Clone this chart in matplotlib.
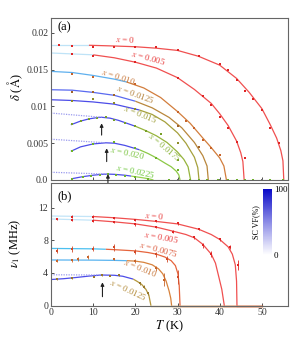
import matplotlib.pyplot as plt
import numpy as np
from matplotlib.colors import LinearSegmentedColormap, Normalize

plt.rcParams['font.family'] = ['Liberation Serif', 'DejaVu Serif']
plt.rcParams['mathtext.fontset'] = 'stix'

# ---- panel (a): delta (Angstrom) vs T (K), fit curves
a0_T = [0, 9, 15, 20, 25, 30, 35, 40, 44, 47, 50, 52, 53.5, 54.5, 55.0, 55.2]
a0_d = [0.0183, 0.0183, 0.0182, 0.0181, 0.0179, 0.0176, 0.0168, 0.0156, 0.0138,
        0.0119, 0.0097, 0.0075, 0.0057, 0.0040, 0.0026, 0.0]
a005_T = [0, 10, 15, 20, 25, 30, 34, 38, 40, 42, 44, 45, 45.5, 45.8]
a005_d = [0.01725, 0.0170, 0.0166, 0.0160, 0.0152, 0.0139, 0.0123, 0.0104, 0.0090,
          0.0074, 0.0053, 0.0037, 0.0025, 0.0]
a010_T = [0, 5, 10, 15, 18, 22, 26, 30, 33, 36, 38, 40, 41, 41.6]
a010_d = [0.01475, 0.0146, 0.0142, 0.0137, 0.0133, 0.0125, 0.0112, 0.0093, 0.0077,
          0.0057, 0.0044, 0.0030, 0.0019, 0.0]
a0125_T = [0, 5, 10, 15, 20, 24, 28, 31, 34, 36, 37, 37.3]
a0125_d = [0.01226, 0.0122, 0.0119, 0.0115, 0.0107, 0.0098, 0.0085, 0.0071, 0.0051,
           0.0033, 0.0019, 0.0]
a015_T = [0, 5, 10, 15, 21, 24, 27, 30, 32, 34, 34.8, 35.1]
a015_d = [0.0109, 0.0108, 0.0106, 0.0103, 0.0095, 0.0089, 0.0079, 0.0064, 0.0050,
          0.0031, 0.0017, 0.0]
a0175_T = [4.7, 7, 9, 11, 12, 14, 16, 18, 20, 22.5, 25, 27.5, 30, 31.5, 32.5, 33.1]
a0175_d = [0.0075, 0.0080, 0.0083, 0.00848, 0.00852, 0.0084, 0.0081, 0.0077, 0.0073,
           0.0067, 0.0060, 0.0051, 0.0038, 0.0028, 0.0018, 0.0]
a020_T = [4.7, 7, 10, 13, 15, 17.5, 21, 23, 25, 27, 28.5, 29.7, 30.3, 30.6]
a020_d = [0.0039, 0.0045, 0.0049, 0.00505, 0.0050, 0.0047, 0.0041, 0.0036, 0.0030,
          0.0023, 0.0018, 0.0012, 0.0007, 0.0]
a0225_T = [5, 7.5, 10, 12, 13.5, 15, 17.5, 19, 20, 22, 23.5, 24.3]
a0225_d = [0.00018, 0.00045, 0.00065, 0.00077, 0.0008, 0.00077, 0.00065, 0.00053,
           0.00045, 0.00028, 0.00012, 0.0]

# dotted extrapolations to T = 0
a0175_dot = ([0, 12], [0.00909, 0.00852])
a020_dot = ([0, 13], [0.00554, 0.00505])
a0225_dot = ([0, 13.5], [0.00105, 0.0008])

# measured points, panel (a)
p0_T = [2, 5, 10, 15, 20, 25, 30, 35, 40, 42, 44, 46, 48, 50, 52, 54]
p0_d = [0.0183, 0.0182, 0.0180, 0.0180, 0.0180, 0.0180, 0.0177, 0.0168, 0.0157,
        0.0150, 0.0136, 0.0121, 0.0110, 0.0095, 0.0070, 0.0050]
p005_T = [5, 10, 20, 30, 36, 38, 40, 42, 44, 46]
p005_d = [0.0171, 0.0169, 0.0160, 0.0139, 0.0114, 0.0102, 0.0086, 0.0071, 0.0051, 0.0030]
p010_T = [5, 10, 20, 30, 32, 34, 36, 38, 40]
p010_d = [0.0144, 0.0140, 0.0131, 0.0092, 0.0080, 0.0070, 0.0055, 0.0043, 0.0034]
p0125_T = [5, 10, 15, 30, 35]
p0125_d = [0.0120, 0.0120, 0.0116, 0.0073, 0.0045]
p015_T = [5, 10, 15, 20, 30]
p015_d = [0.0107, 0.0110, 0.01045, 0.0096, 0.0050]
p0175_T = [5, 7, 9, 11, 13, 15, 17.5, 20, 22.5, 26, 30]
p0175_d = [0.0076, 0.0080, 0.0083, 0.0084, 0.0085, 0.0082, 0.0077, 0.0073, 0.0066,
           0.0063, 0.0027]
p020_T = [5, 10, 15, 20, 25, 30]
p020_d = [0.0039, 0.0049, 0.0051, 0.0043, 0.0030, 0.0013]
p0225_T = [5, 7.5, 9.5, 11.5, 13.5, 15.5, 17.5, 20, 23]
p0225_d = [0.0002, 0.00045, 0.0006, 0.0007, 0.0008, 0.0007, 0.00055, 0.00045, 0.0002]
zero_green_T = [28, 33, 35, 37, 39.5, 42, 44, 46, 48, 52, 55]
zero_grey_T = [30, 40, 50]

# ---- panel (b): nu_1 (MHz) vs T (K)
b0_T = [0, 10, 15, 20, 25, 30, 35, 38, 40, 42, 43, 43.7, 44.0, 44.1]
b0_v = [10.96, 10.9, 10.75, 10.55, 10.3, 10.0, 9.35, 8.7, 8.1, 7.2, 6.3, 5.0, 3.0, 0]
b005_T = [0, 10, 15, 20, 25, 29, 32, 34, 36, 38, 39, 39.8, 40.5, 41.1]
b005_v = [10.6, 10.45, 10.25, 10.0, 9.6, 9.1, 8.7, 8.3, 7.5, 6.3, 5.2, 3.5, 2.0, 0]
b0075_T = [0, 10, 13, 15, 20, 23, 25, 27, 28.5, 29.5, 30.1, 30.4, 30.6]
b0075_v = [7.0, 6.95, 6.9, 6.85, 6.7, 6.5, 6.3, 5.95, 5.5, 4.9, 3.9, 2.5, 0]
b010_T = [0, 10, 15, 18, 20, 22, 24, 25.5, 26.5, 27.3, 28, 28.4, 28.6]
b010_v = [5.59, 5.57, 5.54, 5.5, 5.45, 5.3, 5.0, 4.5, 3.9, 3.0, 1.8, 0.9, 0]
b0125_T = [0, 3, 6, 9, 12, 15, 17, 19.5, 20.5, 21.5, 22.5, 23.2, 23.7]
b0125_v = [3.2, 3.3, 3.45, 3.62, 3.75, 3.72, 3.6, 3.25, 2.95, 2.6, 2.0, 1.3, 0]
b0125_dot = ([0, 12], [3.78, 3.75])

q0_T = [5, 10, 15, 20, 25, 30, 35, 40, 42.4, 44.4]
q0_v = [10.9, 10.9, 10.7, 10.5, 10.35, 10.05, 9.35, 8.1, 7.2, 5.0]
q0_e = [0.15, 0.15, 0.15, 0.15, 0.15, 0.15, 0.15, 0.2, 0.25, 0.6]
q005_T = [1.5, 5, 10, 15, 20, 25, 29, 34, 36, 38]
q005_v = [10.6, 10.5, 10.4, 10.2, 9.95, 9.6, 9.05, 8.35, 7.4, 6.3]
q005_e = [0.1, 0.15, 0.15, 0.15, 0.15, 0.15, 0.15, 0.2, 0.3, 0.35]
q0075_T = [1.5, 5, 10, 15, 20, 25, 27.5, 30]
q0075_v = [6.7, 6.95, 6.95, 7.15, 6.6, 6.3, 5.7, 3.5]
q0075_e = [0.3, 0.35, 0.3, 0.45, 0.3, 0.3, 0.35, 0.9]
q010_T = [1.5, 5, 6.5, 8.7, 15, 20, 25, 26.8]
q010_v = [5.5, 5.55, 5.7, 5.95, 5.7, 5.45, 4.6, 3.2]
q010_e = [0.2, 0.2, 0.2, 0.2, 0.15, 0.2, 0.3, 0.8]
q0125_T = [1.5, 5, 10.2, 12.2, 14, 16.1, 21.1, 22.1, 23]
q0125_v = [3.22, 3.35, 3.55, 3.75, 3.67, 3.75, 2.74, 2.32, 1.5]
q0125_e = [0.1, 0.1, 0.1, 0.1, 0.1, 0.1, 0.15, 0.2, 0.2]

fig = plt.figure(figsize=(2.99, 3.40), dpi=100)
ax_a = fig.add_axes([0.1706, 0.4706, 0.7926, 0.4764])
ax_b = fig.add_axes([0.1706, 0.1009, 0.7926, 0.3609])


def two_tone(ax, T, y, t_sw, c_sc, c_x, lw=0.9):
    i = max(k for k in range(len(T)) if T[k] <= t_sw)
    ax.plot(T[:i + 1], y[:i + 1], color=c_sc, lw=lw, solid_capstyle='butt')
    ax.plot(T[i:], y[i:], color=c_x, lw=lw, solid_capstyle='butt')


dot_c = '#9a9aee'
light = '#bfe3f7'
blue = '#4c4ce8'

# panel (a) curves: (T, delta, switch T, SC colour, x colour, points T, points delta, point colour)
curves_a = [
    (a0_T, a0_d, 9, light, '#f05050', p0_T, p0_d, '#e02424'),
    (a005_T, a005_d, 10, light, '#f05050', p005_T, p005_d, '#e02424'),
    (a010_T, a010_d, 18, '#5fb0ee', '#d27d3c', p010_T, p010_d, '#c8642a'),
    (a0125_T, a0125_d, 20, '#5a6af0', '#b9873c', p0125_T, p0125_d, '#a0642a'),
    (a015_T, a015_d, 21, blue, '#a5a03c', p015_T, p015_d, '#8c8c28'),
    (a0175_T, a0175_d, 20, blue, '#96b43c', p0175_T, p0175_d, '#78a028'),
    (a020_T, a020_d, 21, blue, '#8cc846', p020_T, p020_d, '#6eb428'),
    (a0225_T, a0225_d, 19, blue, '#96d250', p0225_T, p0225_d, '#6eb428'),
]
for T, d, sw, csc, cx, pT, pd, pc in curves_a:
    two_tone(ax_a, T, d, sw, csc, cx)
    ax_a.plot(pT, pd, 's', ms=1.7, color=pc, mew=0)
for T, d in (a0175_dot, a020_dot, a0225_dot):
    ax_a.plot(T, d, ls=(0, (1, 1)), color=dot_c, lw=0.9)
ax_a.plot(zero_green_T, [0] * len(zero_green_T), 's', ms=1.7, color='#6eb428', mew=0, clip_on=False)
ax_a.plot(zero_grey_T, [0] * len(zero_grey_T), 's', ms=1.7, color='#707070', mew=0, clip_on=False)

labels_a = [
    ('$x$ = 0', 17.5, 0.0191, -3, '#e83c3c'),
    ('$x$ = 0.005', 23.0, 0.01662, -15, '#e83c3c'),
    ('$x$ = 0.010', 15.9, 0.01403, -18, '#c8783c'),
    ('$x$ = 0.0125', 19.9, 0.01172, -20, '#b4823c'),
    ('$x$ = 0.015', 21.1, 0.0089, -22, '#a0a03c'),
    ('$x$ = 0.0175', 27.0, 0.0045, -40, '#8cb43c'),
    ('$x$ = 0.020', 18.2, 0.00368, -12, '#78c33c'),
    ('$x$ = 0.0225', 20.1, 0.00123, -12, '#6ec83c'),
]
for s, tx, ty, rot, c in labels_a:
    ax_a.text(tx, ty, s, color=c, fontsize=6.4, rotation=rot, ha='center', va='center')

arr = dict(arrowstyle='-|>', color='#222222', lw=0.8, mutation_scale=5, shrinkA=0, shrinkB=0)
ax_a.annotate('', xy=(12, 0.0077), xytext=(12, 0.0061), arrowprops=arr)
ax_a.annotate('', xy=(13.2, 0.0043), xytext=(13.2, 0.0025), arrowprops=arr)
ax_a.annotate('', xy=(13.5, 0.0008), xytext=(13.5, -0.0016), arrowprops=arr, annotation_clip=False)

ax_a.set_xlim(0, 56.2)
ax_a.set_ylim(0, 0.022)
ax_a.set_yticks([0, 0.005, 0.01, 0.015, 0.02])
ax_a.set_yticklabels(['0.0', '0.005', '0.01', '0.015', '0.02'])
ax_a.set_xticks([0, 10, 20, 30, 40, 50])
ax_a.set_xticklabels([])
ax_a.text(1.5, 0.0208, '(a)', fontsize=9, va='center')

# panel (b)
curves_b = [
    (b0_T, b0_v, 10, '#c3e5f8', '#f05050', q0_T, q0_v, q0_e, '#e02424'),
    (b005_T, b005_v, 10, '#c3e5f8', '#f05050', q005_T, q005_v, q005_e, '#e02424'),
    (b0075_T, b0075_v, 13, '#4cc0f0', '#e6643c', q0075_T, q0075_v, q0075_e, '#d24a28'),
    (b010_T, b010_v, 18, '#5ab4f0', '#d7823c', q010_T, q010_v, q010_e, '#c8642a'),
    (b0125_T, b0125_v, 19.5, blue, '#b4963c', q0125_T, q0125_v, q0125_e, '#96782a'),
]
for T, v, sw, csc, cx, pT, pv, pe, pc in curves_b:
    two_tone(ax_b, T, v, sw, csc, cx)
    ax_b.plot([T[-1], 50], [0, 0], color=cx, lw=0.9, clip_on=False)
    ax_b.errorbar(pT, pv, yerr=pe, fmt='s', ms=1.7, color=pc, mew=0,
                  elinewidth=0.6, capsize=1.2, capthick=0.6)
ax_b.plot(*b0125_dot, ls=(0, (1, 1)), color=dot_c, lw=0.9)

labels_b = [
    ('$x$ = 0', 24.6, 10.96, -5, '#e83c3c'),
    ('$x$ = 0.005', 26.1, 8.4, -10, '#e83c3c'),
    ('$x$ = 0.0075', 25.4, 6.93, -15, '#dc5a3c'),
    ('$x$ = 0.010', 21.1, 4.6, -22, '#c8783c'),
    ('$x$ = 0.0125', 18.2, 1.92, -25, '#b48c3c'),
]
for s, tx, ty, rot, c in labels_b:
    ax_b.text(tx, ty, s, color=c, fontsize=6.4, rotation=rot, ha='center', va='center')

ax_b.annotate('', xy=(12.2, 2.86), xytext=(12.2, 1.1), arrowprops=arr)

ax_b.set_xlim(0, 56.2)
ax_b.set_ylim(0, 15)
ax_b.set_yticks([0, 4, 8, 12])
ax_b.set_xticks([0, 10, 20, 30, 40, 50])
ax_b.set_xlabel('$T$ (K)', fontsize=9, labelpad=1)
ax_b.text(1.5, 13.4, '(b)', fontsize=9, va='center')

for ax in (ax_a, ax_b):
    ax.tick_params(direction='in', length=2.5, width=0.6, labelsize=7, pad=2, colors='#333333')
    for sp in ax.spines.values():
        sp.set_color('#666666')
        sp.set_linewidth(0.8)

fig.text(0.05, 1 - 87 / 340, r'$\delta$ ($\mathrm{\AA}$)', rotation=90, fontsize=9,
         ha='center', va='center')
fig.text(0.05, 1 - 243 / 340, r'$\nu_1$ (MHz)', rotation=90, fontsize=9,
         ha='center', va='center')

# SC volume-fraction colour bar
cmap = LinearSegmentedColormap.from_list('scvf', ['#ffffff', '#8c8ce6', '#0a0ac8'])
cax = fig.add_axes([0.8796, 0.25, 0.030, 0.194])
cb = fig.colorbar(plt.cm.ScalarMappable(norm=Normalize(0, 100), cmap=cmap), cax=cax)
cb.outline.set_visible(False)
cb.set_ticks([0, 100])
cb.ax.tick_params(length=0, labelsize=6.5, pad=1.5)
cb.ax.set_ylabel('SC VF(%)', fontsize=5.8, labelpad=2)
cb.ax.yaxis.set_label_position('left')

fig.savefig('out.png', dpi=100)
